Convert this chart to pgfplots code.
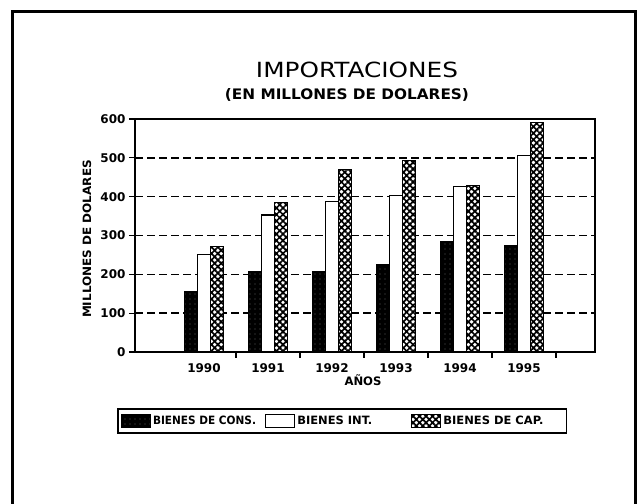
\documentclass[border=0pt]{standalone}
\usepackage{pgfplots}
\pgfplotsset{compat=1.18}
\usepackage{fontspec}
\setmainfont{DejaVu Sans}
\usetikzlibrary{patterns.meta}
\pgfplotsset{barleg/.style={legend image code/.code={\draw[##1] (0pt,-6.5pt) rectangle (29pt,6.5pt);}}}
\begin{document}
\begin{tikzpicture}[x=1pt,y=1pt]
\useasboundingbox (0,0) rectangle (641,504);
\draw[line width=3pt] (12,-5) -- (12,492) -- (635,492) -- (635,-5);
\node[anchor=base,inner sep=0pt] at (357,426) {\resizebox{202pt}{15.5pt}{IMPORTACIONES}};
\node[anchor=base,inner sep=0pt] at (347,404) {\resizebox{244pt}{11pt}{\bfseries (EN MILLONES DE DOLARES)}};
\begin{axis}[
  at={(135pt,152pt)}, anchor=south west, scale only axis,
  width=460pt, height=233pt,
  xmin=-1.078, xmax=6.11, ymin=0, ymax=600,
  axis line style={line width=1.6pt},
  ybar=0pt, bar width=13pt,
  xtick={0,...,5},
  xticklabels={1990,1991,1992,1993,1994,1995},
  major x tick style={draw=none},
  minor xtick={0.5,1.5,2.5,3.5,4.5,5.5},
  minor x tick style={line width=1.3pt, black},
  minor tick length=6pt,
  ytick={0,100,...,600},
  major y tick style={line width=1.3pt, black},
  major tick length=6pt,
  tick align=outside,
  xtick pos=bottom, ytick pos=left,
  ymajorgrids,
  grid style={black, line width=1.6pt, dash pattern=on 8pt off 4pt},
  /pgf/number format/assume math mode=true,
  ticklabel style={font=\bfseries\fontsize{12}{12}\selectfont},
  xticklabel style={yshift=-2pt},
  legend columns=3,
  legend style={at={(-0.039,-0.240)}, anchor=north west, draw=black,
    line width=1.6pt, inner xsep=3pt, inner ysep=5pt},
  legend cell align=left,
]
\addplot[draw=black, line width=1.2pt, fill=black,
  postaction={pattern={Dots[distance=5pt,radius=0.45pt]}, pattern color=white},
  barleg]
  coordinates {(0,155) (1,207) (2,206) (3,226) (4,284) (5,273)};
\addlegendentry{\makebox[110pt][l]{\resizebox{103pt}{8.5pt}{\bfseries BIENES DE CONS.}}}
\addplot[draw=black, line width=1.2pt, fill=white, barleg]
  coordinates {(0,252) (1,353) (2,387) (3,402) (4,427) (5,507)};
\addlegendentry{\makebox[112pt][l]{\resizebox{75pt}{8.5pt}{\bfseries BIENES INT.}}}
\addplot[draw=black, line width=1.2pt, fill=white,
  postaction={pattern={Hatch[angle=45,distance=4.6pt,line width=1.7pt]}, pattern color=black},
  barleg]
  coordinates {(0,271) (1,384) (2,470) (3,494) (4,428) (5,590)};
\addlegendentry{\makebox[118pt][l]{\resizebox{100pt}{8.5pt}{\bfseries BIENES DE CAP.}}}
\end{axis}
\node[rotate=90,inner sep=0pt] at (87,265) {\resizebox{158pt}{8.5pt}{\bfseries MILLONES DE DOLARES}};
\node[anchor=base,inner sep=0pt] at (363,118) {\resizebox{37pt}{!}{\bfseries AÑOS}};
\end{tikzpicture}
\end{document}
